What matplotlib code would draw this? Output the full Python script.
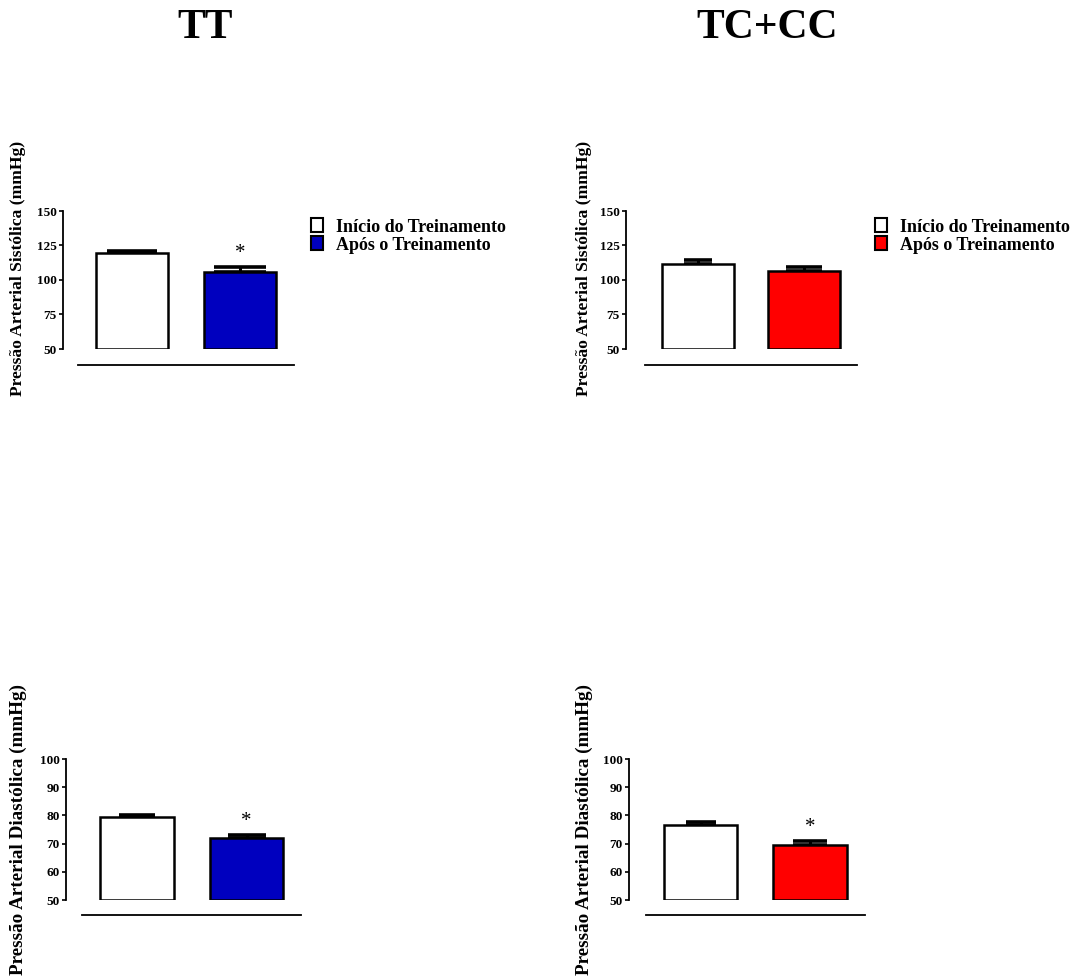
import matplotlib
matplotlib.use("Agg")
import matplotlib.pyplot as plt
from matplotlib.patches import Rectangle

plt.rcParams['font.family'] = ['Liberation Serif', 'DejaVu Serif']

# ---------------- data ----------------
groups = ["TT", "TC+CC"]
legend_labels = ["Início do Treinamento", "Após o Treinamento"]
sys_label = "Pressão Arterial Sistólica (mmHg)"
dia_label = "Pressão Arterial Diastólica (mmHg)"

tt_sys_mean = [119.7, 105.5]
tt_sys_err = [1.5, 4.0]
tt_sys_sig = [False, True]

tcc_sys_mean = [111.3, 106.3]
tcc_sys_err = [3.1, 3.1]
tcc_sys_sig = [False, False]

tt_dia_mean = [79.4, 72.0]
tt_dia_err = [0.6, 1.0]
tt_dia_sig = [False, True]

tcc_dia_mean = [76.5, 69.4]
tcc_dia_err = [1.1, 1.4]
tcc_dia_sig = [False, True]

sys_ticks = [50, 75, 100, 125, 150]
dia_ticks = [50, 60, 70, 80, 90, 100]

# ---------------- layout ----------------
W, H = 1087, 980
fig = plt.figure(figsize=(W / 100, H / 100), dpi=100)

white = "#FFFFFF"
blue = "#0000BF"
red = "#FF0000"


def panel(ax_x, y_top, y_bot, c0, c1, base_y, means, errs, sig, ticks,
          colors, ylabel, label_x, label_cy, label_fs, capsizes):
    unit = c1 - c0
    xl = (ax_x - c0) / unit
    xr = 1.6
    width = (xr - xl) * unit
    ax = fig.add_axes([ax_x / W, 1 - y_bot / H, width / W, (y_bot - y_top) / H])
    ax.set_xlim(xl, xr)
    ax.set_ylim(ticks[0], ticks[-1])
    xs = [0, 1]
    heights = [m - ticks[0] for m in means]
    for x, m, e, cs in zip(xs, means, errs, capsizes):
        ax.errorbar([x], [m], yerr=[[0], [e]], fmt='none', ecolor='black',
                    elinewidth=2.2, capsize=cs, capthick=2.6, zorder=1)
    ax.bar(xs, heights, bottom=ticks[0], width=0.67, color=colors,
           edgecolor='black', linewidth=1.8, zorder=2)
    for x, m, e, s in zip(xs, means, errs, sig):
        if s:
            ax.annotate("*", (x, m + e), xytext=(0, 3), textcoords='offset points',
                        ha='center', va='bottom', fontsize=15, fontweight='normal')
    for side in ['top', 'right']:
        ax.spines[side].set_visible(False)
    ax.spines['left'].set_bounds(ticks[0], ticks[-1])
    ax.spines['left'].set_linewidth(1.3)
    ax.spines['bottom'].set_position(('outward', (base_y - y_bot) * 0.72))
    ax.spines['bottom'].set_bounds(-0.5, 1.5)
    ax.spines['bottom'].set_linewidth(1.3)
    ax.set_xticks([])
    ax.set_yticks(ticks)
    ax.set_yticklabels([str(t) for t in ticks], fontsize=9.5, fontweight='bold')
    ax.tick_params(axis='y', length=3, width=1.2, pad=1.5)
    ax.patch.set_alpha(0)
    fig.text(label_x / W, 1 - label_cy / H, ylabel, rotation=90, ha='center',
             va='center', fontsize=label_fs, fontweight='bold')
    return ax


panel(63, 211, 349, 132, 240, 365, tt_sys_mean, tt_sys_err, tt_sys_sig,
      sys_ticks, [white, blue], sys_label, 18, 268, 12.6, [18, 19])
panel(626, 211, 349, 698, 804, 365, tcc_sys_mean, tcc_sys_err, tcc_sys_sig,
      sys_ticks, [white, red], sys_label, 584, 268, 12.6, [10, 13])
panel(66, 759, 900, 137, 246.5, 915, tt_dia_mean, tt_dia_err, tt_dia_sig,
      dia_ticks, [white, blue], dia_label, 18, 829, 13.8, [13, 13.5])
panel(629, 759, 900, 700.5, 810, 915, tcc_dia_mean, tcc_dia_err, tcc_dia_sig,
      dia_ticks, [white, red], dia_label, 584, 829, 13.8, [10.5, 12])

# titles
fig.text(205 / W, 1 - 38 / H, groups[0], ha='center', va='baseline',
         fontsize=30, fontweight='bold')
fig.text(767 / W, 1 - 38 / H, groups[1], ha='center', va='baseline',
         fontsize=30, fontweight='bold')

# legends (drawn manually in figure pixel positions)
for lx, col in [(311, blue), (875, red)]:
    for i, (lab, fc) in enumerate(zip(legend_labels, [white, col])):
        y0 = 218 + 18 * i
        fig.patches.append(Rectangle((lx / W, 1 - (y0 + 14) / H), 12 / W, 14 / H,
                                     transform=fig.transFigure, facecolor=fc,
                                     edgecolor='black', linewidth=1.5))
        fig.text((lx + 25) / W, 1 - (y0 + 14) / H, lab, ha='left', va='baseline',
                 fontsize=13, fontweight='bold')

fig.savefig("out.png", dpi=100)
